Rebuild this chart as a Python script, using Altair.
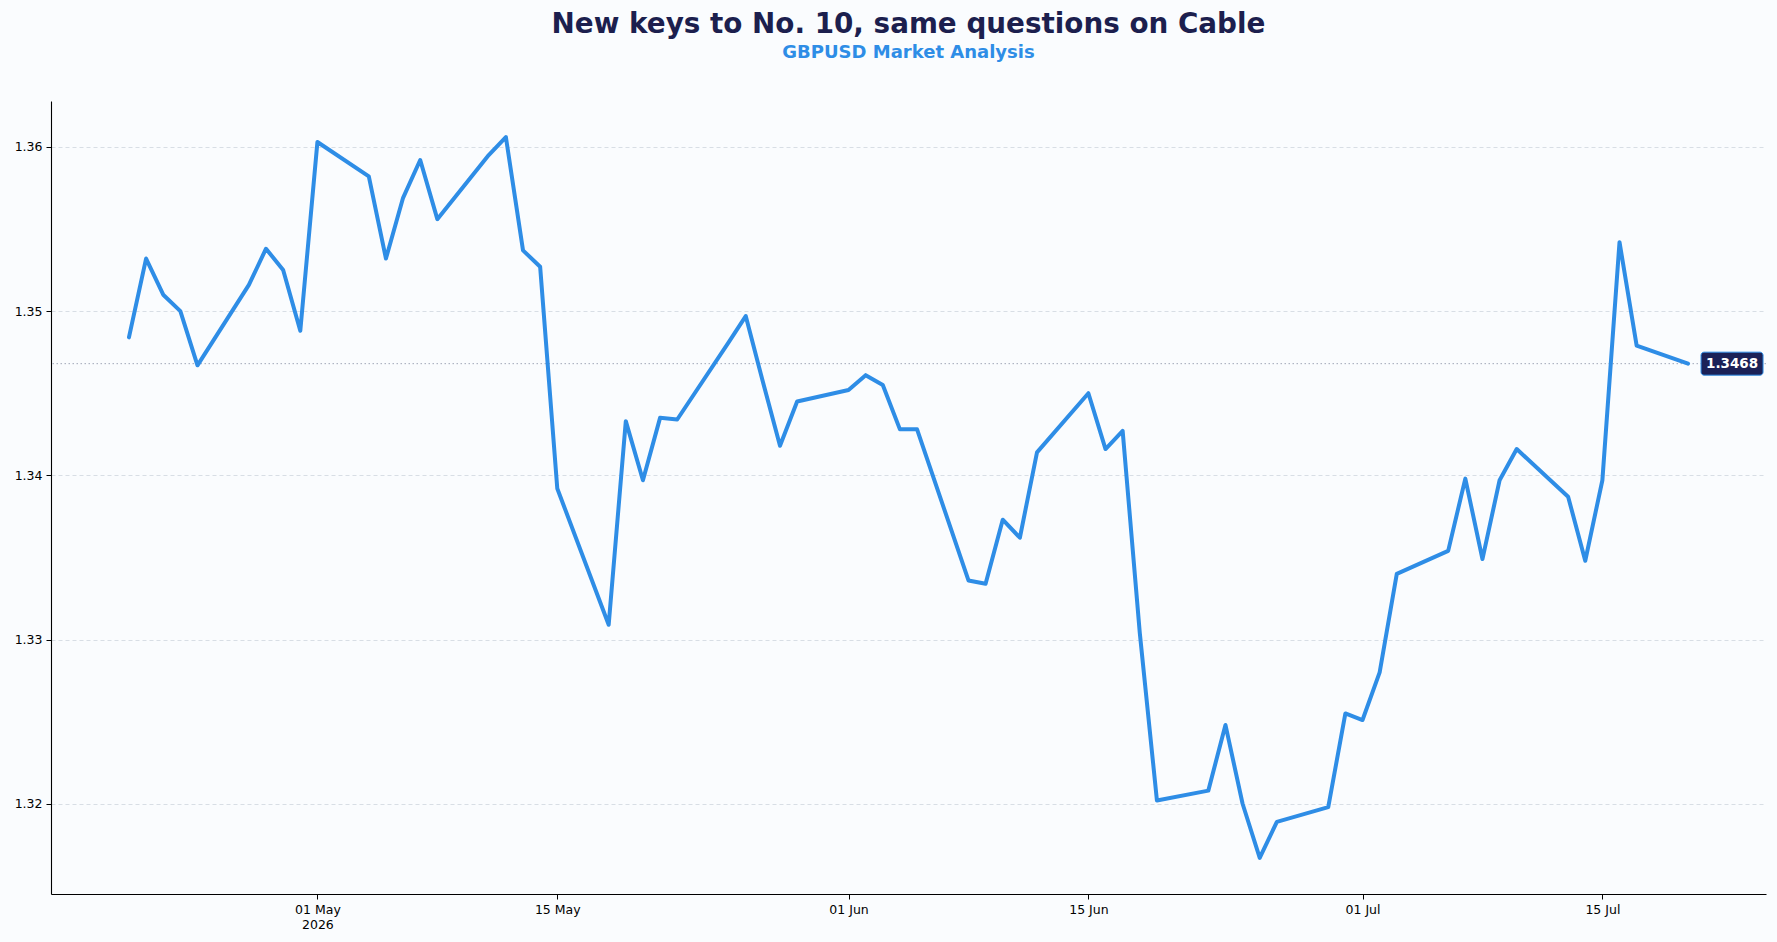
import altair as alt
import pandas as pd

dates = [
    "2026-04-20", "2026-04-21", "2026-04-22", "2026-04-23", "2026-04-24",
    "2026-04-27", "2026-04-28", "2026-04-29", "2026-04-30", "2026-05-01",
    "2026-05-04", "2026-05-05", "2026-05-06", "2026-05-07", "2026-05-08",
    "2026-05-11", "2026-05-12", "2026-05-13", "2026-05-14", "2026-05-15",
    "2026-05-18", "2026-05-19", "2026-05-20", "2026-05-21", "2026-05-22",
    "2026-05-25", "2026-05-26", "2026-05-27", "2026-05-28", "2026-05-29",
    "2026-06-01", "2026-06-02", "2026-06-03", "2026-06-04", "2026-06-05",
    "2026-06-08", "2026-06-09", "2026-06-10", "2026-06-11", "2026-06-12",
    "2026-06-15", "2026-06-16", "2026-06-17", "2026-06-18", "2026-06-19",
    "2026-06-22", "2026-06-23", "2026-06-24", "2026-06-25", "2026-06-26",
    "2026-06-29", "2026-06-30", "2026-07-01", "2026-07-02", "2026-07-03",
    "2026-07-06", "2026-07-07", "2026-07-08", "2026-07-09", "2026-07-10",
    "2026-07-13", "2026-07-14", "2026-07-15", "2026-07-16", "2026-07-17",
    "2026-07-20",
]
values = [
    1.3484, 1.3532, 1.3510, 1.3500, 1.3467,
    1.3516, 1.3538, 1.3525, 1.3488, 1.3603,
    1.3582, 1.3532, 1.3569, 1.3592, 1.3556,
    1.3595, 1.3606, 1.3537, 1.3527, 1.3392,
    1.3309, 1.3433, 1.3397, 1.3435, 1.3434,
    1.3481, 1.3497, 1.3457, 1.3418, 1.3445,
    1.3452, 1.3461, 1.3455, 1.3428, 1.3428,
    1.3336, 1.3334, 1.3373, 1.3362, 1.3414,
    1.3450, 1.3416, 1.3427, 1.3304, 1.3202,
    1.3208, 1.3248, 1.3200, 1.3167, 1.3189,
    1.3198, 1.3255, 1.3251, 1.3280, 1.3340,
    1.3354, 1.3398, 1.3349, 1.3397, 1.3416,
    1.3387, 1.3348, 1.3397, 1.3542, 1.3479,
    1.3468,
]
tick_dates = ["2026-05-01", "2026-05-15", "2026-06-01", "2026-06-15", "2026-07-01", "2026-07-15"]
y_ticks = [1.32, 1.33, 1.34, 1.35, 1.36]

title_text = "New keys to No. 10, same questions on Cable"
subtitle_text = "GBPUSD Market Analysis"

LINE = "#2e8de6"
NAVY = "#1c1f4e"
FONT = "DejaVu Sans"

df = pd.DataFrame({"date": dates, "value": values})
last_df = pd.DataFrame({"date": [dates[-1]], "value": [values[-1]],
                        "label": [f"{values[-1]:.4f}"]})

# matplotlib-like 5% margins
d0, d1 = pd.Timestamp(dates[0]), pd.Timestamp(dates[-1])
span = d1 - d0
xmin = int((d0 - span * 0.05).timestamp() * 1000)
xmax = int((d1 + span * 0.05).timestamp() * 1000)
vmin, vmax = min(values), max(values)
ym = (vmax - vmin) * 0.05

xscale = alt.Scale(type="utc", domain=[xmin, xmax], nice=False)
yscale = alt.Scale(domain=[vmin - ym, vmax + ym], nice=False, zero=False)
tick_ms = [int(pd.Timestamp(t).timestamp() * 1000) for t in tick_dates]

x_axis = alt.Axis(
    values=tick_ms, grid=False, title=None,
    labelExpr="utcFormat(datum.value, '%d %b') == '01 May' ? [utcFormat(datum.value, '%d %b'), utcFormat(datum.value, '%Y')] : utcFormat(datum.value, '%d %b')",
    labelFont=FONT, labelFontSize=12.5, labelColor="#000000", labelLineHeight=15,
    tickColor="#000000", tickSize=5, tickWidth=1, labelPadding=4,
    domainColor="#000000", domainWidth=1.1,
)
y_axis = alt.Axis(
    values=y_ticks, format=".2f", title=None, grid=True,
    gridColor="#cfd5de", gridDash=[4, 3], gridWidth=0.8,
    labelFont=FONT, labelFontSize=12.5, labelColor="#000000",
    tickColor="#000000", tickSize=5, tickWidth=1, labelPadding=4,
    domainColor="#000000", domainWidth=1.1,
)

base = alt.Chart(df)

line = base.mark_line(color=LINE, strokeWidth=4, strokeJoin="round", strokeCap="round").encode(
    x=alt.X("date:T", scale=xscale, axis=x_axis),
    y=alt.Y("value:Q", scale=yscale, axis=y_axis),
)

ref = alt.Chart(last_df).mark_rule(color="#a0a8b8", strokeDash=[1.5, 2.5], strokeWidth=1).encode(
    y=alt.Y("value:Q", scale=yscale),
)

box = alt.Chart(last_df).mark_rect(
    width=62, height=23, xOffset=44, cornerRadius=3,
    fill="#1b2157", stroke=LINE, strokeWidth=1,
).encode(
    x=alt.X("date:T", scale=xscale),
    y=alt.Y("value:Q", scale=yscale),
)

label = alt.Chart(last_df).mark_text(
    dx=44, align="center", baseline="middle", color="#ffffff",
    font=FONT, fontWeight="bold", fontSize=13.5,
).encode(
    x=alt.X("date:T", scale=xscale),
    y=alt.Y("value:Q", scale=yscale),
    text="label:N",
)

chart = alt.layer(ref, line, box, label).properties(
    width=1715, height=793,
    autosize=alt.AutoSizeParams(type="none"),
    padding={"left": 51, "top": 101, "right": 11, "bottom": 48},
    background="#fafcfe",
    title=alt.TitleParams(
        text=title_text, subtitle=subtitle_text, anchor="middle", frame="group",
        font=FONT, fontSize=27.8, fontWeight="bold", color=NAVY,
        subtitleFont=FONT, subtitleFontSize=18, subtitleFontWeight="bold",
        subtitleColor=LINE, subtitlePadding=5, offset=39,
    ),
).configure_view(stroke=None)

chart.save("out.html", embed_options={"renderer": "svg", "actions": False})
